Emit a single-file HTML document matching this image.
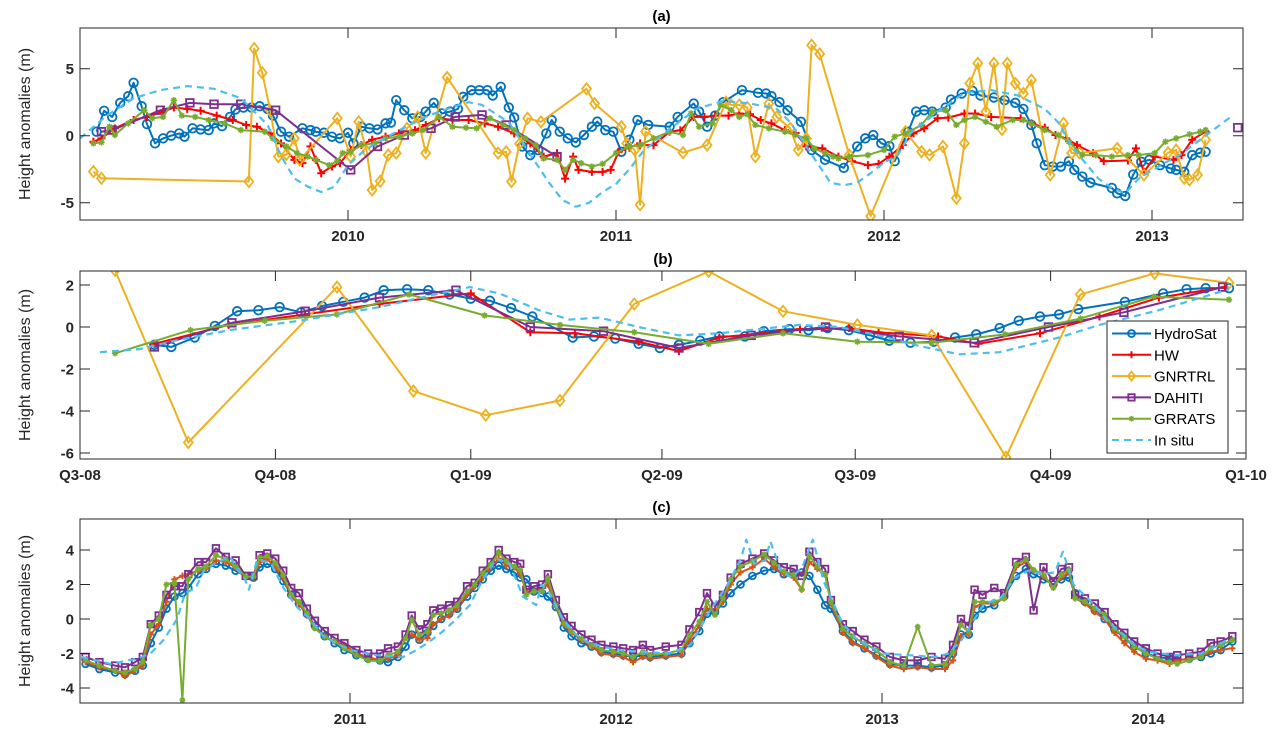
<!DOCTYPE html>
<html><head><meta charset="utf-8">
<style>
html,body{margin:0;padding:0;background:#fff;}
svg{display:block;font-family:"Liberation Sans",Arial,sans-serif;}
</style></head>
<body>
<svg id="chart" width="1284" height="736" viewBox="0 0 1284 736" xmlns="http://www.w3.org/2000/svg">
<rect x="0" y="0" width="1284" height="736" fill="#fff"/>
</svg>
<script>
// ---------- Panel (a) data ----------
const aHydroT = [2009.062,2009.09,2009.12,2009.15,2009.18,2009.20,2009.23,2009.25,2009.28,2009.31,2009.34,2009.37,2009.39,2009.42,2009.45,2009.48,2009.50,2009.53,2009.56,2009.58,2009.61,2009.64,2009.67,2009.70,2009.72,2009.75,2009.78,2009.83,2009.86,2009.88,2009.91,2009.94,2009.97,2010.00,2010.02,2010.05,2010.08,2010.11,2010.14,2010.16,2010.18,2010.21,2010.24,2010.27,2010.29,2010.32,2010.35,2010.38,2010.41,2010.43,2010.46,2010.49,2010.52,2010.54,2010.57,2010.60,2010.62,2010.65,2010.68,2010.71,2010.74,2010.76,2010.79,2010.82,2010.85,2010.88,2010.91,2010.93,2010.96,2010.99,2011.02,2011.05,2011.08,2011.12,2011.20,2011.23,2011.29,2011.31,2011.34,2011.37,2011.40,2011.47,2011.53,2011.56,2011.58,2011.61,2011.64,2011.69,2011.73,2011.78,2011.85,2011.90,2011.93,2011.96,2011.99,2012.02,2012.04,2012.09,2012.12,2012.15,2012.18,2012.23,2012.25,2012.29,2012.33,2012.36,2012.41,2012.45,2012.49,2012.52,2012.55,2012.57,2012.60,2012.63,2012.66,2012.69,2012.71,2012.74,2012.77,2012.85,2012.87,2012.90,2012.93,2012.96,2012.99,2013.03,2013.07,2013.09,2013.12,2013.15,2013.18,2013.20];
const aHydroV = [0.3,1.86,1.4,2.45,2.95,3.95,2.2,0.87,-0.57,-0.2,0,0.17,-0.07,0.55,0.47,0.42,0.92,0.72,1.4,1.96,2.1,2.1,2.2,2.0,1.5,0.3,-0.07,0.55,0.42,0.3,0.22,-0.07,-0.2,0.22,-0.57,0.67,0.55,0.47,0.92,0.97,2.65,1.9,1.3,1.4,1.8,2.45,1.66,1.8,2.0,2.9,3.4,3.4,3.4,3.0,3.65,2.1,1.36,-0.8,-1.45,-1.07,0.17,1.17,0.3,-0.2,-0.5,0.05,0.67,1.05,0.42,0.3,-1.2,-0.3,1.17,0.8,0.67,1.4,2.4,1.8,0.67,1.5,2.5,3.4,3.2,3.15,2.95,2.5,1.9,1.04,-1.07,-1.8,-2.4,-0.8,-0.2,0.05,-0.57,-0.77,-1.9,0.3,1.8,1.9,1.8,2.1,2.7,3.15,3.35,3.0,2.85,2.65,2.45,2.0,0.8,-0.57,-2.2,-2.3,-2.3,-1.9,-2.55,-3.05,-3.5,-3.9,-4.3,-4.5,-2.9,-1.95,-1.8,-2.2,-2.45,-2.55,-2.7,-1.45,-1.27,-1.2];
const aHwT = [2009.05,2009.08,2009.13,2009.2,2009.25,2009.31,2009.35,2009.4,2009.45,2009.51,2009.57,2009.62,2009.66,2009.71,2009.75,2009.8,2009.83,2009.86,2009.88,2009.9,2009.94,2009.97,2010.01,2010.05,2010.09,2010.14,2010.19,2010.25,2010.29,2010.34,2010.39,2010.45,2010.51,2010.56,2010.62,2010.68,2010.73,2010.78,2010.81,2010.84,2010.86,2010.91,2010.95,2010.98,2011.01,2011.05,2011.09,2011.09,2011.14,2011.20,2011.24,2011.29,2011.33,2011.37,2011.42,2011.46,2011.50,2011.54,2011.58,2011.63,2011.67,2011.71,2011.77,2011.83,2011.88,2011.94,2011.98,2012.02,2012.07,2012.11,2012.15,2012.20,2012.24,2012.30,2012.34,2012.40,2012.51,2012.55,2012.60,2012.64,2012.68,2012.72,2012.78,2012.82,2012.91,2012.94,2012.97,2013.01,2013.08,2013.11,2013.15,2013.20];
const aHwV = [-0.45,-0.2,0.55,1.17,1.4,1.8,2.1,2.0,1.86,1.5,1.17,0.8,0.67,0.17,-0.57,-1.8,-2.05,-0.8,-1.8,-2.8,-2.3,-2.05,-1.07,-0.7,-0.3,-0.07,0.17,0.42,0.8,1.3,1.17,1.17,0.92,0.67,0.17,-0.57,-1.56,-1.3,-3.2,-1.56,-2.55,-2.7,-2.7,-2.55,-1.2,-0.9,-0.57,-0.7,-0.7,0.3,0.4,1.4,1.4,1.5,1.5,1.66,1.6,1.17,0.92,0.42,0.2,-0.8,-0.95,-1.56,-1.9,-2.2,-2.1,-1.56,-0.7,0.17,0.55,1.3,1.35,1.66,1.66,1.4,1.3,0.92,0.6,0.05,-0.2,-0.7,-1.3,-1.9,-1.85,-0.95,-2.7,-1.56,-1.8,-1.45,-0.3,0.3,0.67];
const aGnT = [2009.05,2009.08,2009.63,2009.65,2009.68,2009.71,2009.74,2009.77,2009.80,2009.82,2009.96,2010.01,2010.04,2010.07,2010.09,2010.12,2010.15,2010.18,2010.22,2010.26,2010.29,2010.37,2010.56,2010.59,2010.61,2010.64,2010.67,2010.72,2010.89,2010.92,2011.02,2011.04,2011.07,2011.09,2011.11,2011.25,2011.34,2011.41,2011.43,2011.46,2011.49,2011.52,2011.57,2011.60,2011.65,2011.68,2011.71,2011.73,2011.76,2011.87,2011.95,2012.08,2012.14,2012.17,2012.22,2012.27,2012.30,2012.32,2012.35,2012.38,2012.41,2012.44,2012.46,2012.49,2012.52,2012.55,2012.62,2012.67,2012.70,2012.73,2012.87,2012.97,2013.06,2013.09,2013.12,2013.14,2013.17,2013.20];
const aGnV = [-2.68,-3.18,-3.42,6.5,4.7,1.86,-1.56,-1.4,-0.2,-1.8,1.3,-1.56,1.04,-1.2,-4.05,-3.4,-1.44,-1.3,0.55,1.4,-1.3,4.35,-1.3,-1.2,-3.42,-0.6,1.3,1.04,3.5,2.4,0.67,-0.57,-1.07,-5.16,0.3,-1.27,-0.7,2.5,2.3,2.3,2.1,-1.56,2.4,1.4,0.55,-1.07,-0.2,6.75,6.1,-1.44,-6.0,0.3,-1.2,-1.44,-0.8,-4.66,-0.57,3.9,5.4,1.8,5.4,0.47,5.4,3.9,3.15,4.15,-2.93,0.92,-1.3,-1.3,-0.95,-2.93,-1.27,-1.07,-3.18,-3.3,-2.93,-0.3,-0.7,0.55];
const aDaT = [2009.08,2009.12,2009.30,2009.41,2009.50,2009.60,2009.73,2010.01,2010.11,2010.21,2010.31,2010.40,2010.50,2010.59,2010.78];
const aDaV = [0.3,0.42,1.9,2.45,2.35,2.35,1.9,-2.55,-0.8,0.05,0.55,1.4,1.55,0.8,-1.56];
const aDaEndT = [2013.32];
const aDaEndV = [0.6];
const aGrT = [2009.05,2009.08,2009.11,2009.13,2009.18,2009.24,2009.27,2009.31,2009.35,2009.38,2009.43,2009.48,2009.54,2009.60,2009.69,2009.72,2009.77,2009.81,2009.85,2009.88,2009.93,2009.96,2009.98,2010.01,2010.05,2010.10,2010.14,2010.19,2010.24,2010.28,2010.34,2010.39,2010.44,2010.48,2010.53,2010.58,2010.62,2010.66,2010.70,2010.73,2010.78,2010.81,2010.84,2010.87,2010.91,2010.95,2011.00,2011.05,2011.09,2011.14,2011.20,2011.25,2011.28,2011.31,2011.36,2011.39,2011.43,2011.46,2011.49,2011.52,2011.57,2011.63,2011.67,2011.71,2011.74,2011.78,2011.81,2011.83,2011.87,2011.94,2012.00,2012.04,2012.08,2012.14,2012.18,2012.23,2012.27,2012.30,2012.34,2012.38,2012.42,2012.48,2012.52,2012.55,2012.60,2012.65,2012.69,2012.74,2012.79,2012.85,2012.91,2012.95,2013.01,2013.05,2013.09,2013.14,2013.18,2013.20];
const aGrV = [-0.57,-0.5,0.67,0.05,0.92,1.9,1.3,1.4,2.65,1.5,1.4,1.17,0.92,0.42,0.3,-0.2,-0.8,-1.3,-1.56,-1.8,-2.2,-1.9,-1.3,-1.2,-0.7,-0.57,-0.2,-0.07,0.17,0.42,1.4,0.67,0.6,0.55,1.3,0.8,0.42,-0.2,-0.7,-1.7,-1.8,-2.55,-1.8,-2.05,-2.3,-2.1,-1.3,-0.8,-0.7,-0.2,0.3,0.05,1.66,0.67,0.92,2.3,1.9,1.4,1.6,0.8,0.55,0.3,0.05,-0.2,-0.95,-1.3,-1.56,-1.7,-1.56,-1.45,-1.07,-0.07,0.17,0.8,1.8,1.9,0.8,1.17,1.4,1.04,0.67,1.17,1.17,0.92,0.42,0.05,-0.45,-1.45,-1.45,-1.56,-1.45,-1.45,-1.3,-0.45,-0.2,0.1,0.3,0.42];
const aInT = [2009.0,2009.1,2009.2,2009.3,2009.4,2009.5,2009.6,2009.7,2009.75,2009.8,2009.85,2009.9,2009.95,2010.0,2010.05,2010.1,2010.2,2010.3,2010.4,2010.45,2010.5,2010.6,2010.65,2010.7,2010.75,2010.8,2010.85,2010.9,2010.95,2011.0,2011.05,2011.1,2011.2,2011.3,2011.4,2011.5,2011.6,2011.65,2011.7,2011.75,2011.8,2011.85,2011.9,2011.95,2012.0,2012.05,2012.1,2012.2,2012.3,2012.4,2012.5,2012.6,2012.65,2012.7,2012.75,2012.8,2012.85,2012.9,2012.95,2013.0,2013.05,2013.1,2013.2,2013.3];
const aInV = [-0.2,1.5,2.8,3.4,3.7,3.5,2.8,0.8,-1.5,-3.2,-3.8,-4.2,-3.8,-2.2,-1.3,-0.6,0.5,1.5,2.2,2.5,2.3,1.0,-0.5,-2.0,-3.5,-4.8,-5.3,-5.0,-4.2,-3.6,-2.5,-1.2,0.5,2.0,2.6,2.4,2.0,1.0,-0.5,-2.0,-3.5,-3.7,-3.5,-2.8,-2.0,-1.5,0.2,1.8,3.2,3.4,3.0,2.0,1.0,-0.8,-2.0,-3.2,-3.9,-4.3,-3.2,-2.6,-2.0,-1.5,0.0,1.5];
const aXTicks = [2010,2011,2012,2013];
const aYTicks = [5,0,-5];

// ---------- Panel (b) data (days since 2008-07-01) ----------
const bHydroD = [35,43,54,63.5,74,84,94,104,114,124,134,143,154,164,174,184,193,203,213,232,242,252,263,273,282,292,301,313,322,334,343,352,362,372,381,391,402,412,422,433,442,452,461,470,492,510,521,530,541];
const bHydroV = [-0.85,-0.95,-0.5,0.05,0.75,0.8,0.95,0.7,1.0,1.2,1.4,1.75,1.8,1.75,1.55,1.35,1.25,0.9,0.5,-0.5,-0.45,-0.55,-0.8,-1.0,-0.85,-0.65,-0.45,-0.45,-0.2,-0.1,-0.15,-0.05,-0.15,-0.4,-0.65,-0.75,-0.7,-0.5,-0.35,-0.05,0.3,0.5,0.6,0.85,1.2,1.6,1.8,1.85,1.85];
const bHwD = [35,70,106,141,184,212,233,263,282,301,339,362,376,404,423,452,480,508,539];
const bHwV = [-0.8,0.1,0.6,1.1,1.6,-0.25,-0.3,-0.7,-1.15,-0.5,-0.1,-0.05,-0.25,-0.45,-0.8,-0.3,0.5,1.4,1.9];
const bGnD = [16.5,51,121,157,191,226,261,296,331,366,401,436,471,506,541];
const bGnV = [2.7,-5.5,1.9,-3.05,-4.2,-3.5,1.1,2.65,0.75,0.1,-0.4,-6.2,1.55,2.55,2.1];
const bDaD = [35,71.5,106,141,177,212,246.5,282,316,351,385.7,421,456,491.5,538];
const bDaV = [-0.95,0.2,0.75,1.4,1.75,0.0,-0.2,-1.0,-0.4,0.0,-0.45,-0.75,0.0,0.7,1.9];
const bGrD = [16.5,52,87,121,155,190.5,226,261,296,331,366,401,435.6,471,505.6,541];
const bGrV = [-1.25,-0.15,0.3,0.6,1.55,0.55,0.1,-0.25,-0.8,-0.3,-0.7,-0.75,-0.35,0.4,1.45,1.3];
const bInD = [9.4,28,47,70.5,103.5,141,165,183.5,197.5,216,230.5,244.5,263,282,301,320,338.7,357.5,376,395,414,433,461,480,508,541];
const bInV = [-1.2,-1.05,-0.6,-0.15,0.3,0.95,1.5,1.9,1.6,0.8,0.35,0.45,0.0,-0.4,-0.3,-0.1,0.1,0.0,-0.4,-0.9,-1.3,-1.2,-0.5,0.1,0.8,1.8];
const bXTickDays = [0,92,184,274,365,457,549];
const bXTickLabels = ["Q3-08","Q4-08","Q1-09","Q2-09","Q3-09","Q4-09","Q1-10"];
const bYTicks = [2,0,-2,-4,-6];

// ---------- Panel (c) data ----------
const cT = [2010.006,2010.058,2010.117,2010.154,2010.192,2010.221,2010.251,2010.281,2010.31,2010.34,2010.37,2010.392,2010.429,2010.459,2010.496,2010.533,2010.57,2010.608,2010.637,2010.66,2010.689,2010.719,2010.749,2010.779,2010.808,2010.838,2010.868,2010.905,2010.942,2010.979,2011.024,2011.068,2011.113,2011.143,2011.18,2011.209,2011.232,2011.261,2011.291,2011.313,2011.343,2011.373,2011.403,2011.44,2011.469,2011.499,2011.529,2011.559,2011.588,2011.618,2011.64,2011.663,2011.692,2011.722,2011.744,2011.774,2011.804,2011.833,2011.87,2011.908,2011.945,2011.99,2012.027,2012.064,2012.101,2012.128,2012.187,2012.246,2012.276,2012.313,2012.342,2012.372,2012.402,2012.431,2012.468,2012.513,2012.557,2012.594,2012.631,2012.668,2012.698,2012.727,2012.757,2012.786,2012.808,2012.853,2012.89,2012.934,2012.979,2013.03,2013.082,2013.134,2013.186,2013.237,2013.267,2013.297,2013.326,2013.348,2013.378,2013.422,2013.459,2013.504,2013.541,2013.57,2013.607,2013.644,2013.674,2013.703,2013.726,2013.763,2013.8,2013.837,2013.874,2013.911,2013.948,2013.992,2014.036,2014.081,2014.11,2014.155,2014.199,2014.236,2014.273,2014.317];
const cHydroV = [-2.6,-2.9,-3.1,-3.2,-3.0,-2.7,-1.4,-0.5,0.6,1.3,1.5,1.8,2.6,2.9,3.2,3.1,2.8,2.5,2.4,3.0,3.2,2.9,2.2,1.4,0.9,0.3,-0.4,-1.0,-1.4,-1.8,-2.1,-2.3,-2.4,-2.5,-2.2,-1.6,-0.9,-1.2,-0.8,-0.4,0.0,0.3,0.6,1.3,1.8,2.3,2.8,3.1,2.9,2.7,2.4,2.3,1.6,1.5,1.3,0.7,-0.5,-1.0,-1.4,-1.6,-1.9,-2.0,-2.1,-2.2,-2.1,-2.2,-2.1,-2.0,-1.4,-0.7,0.3,0.4,0.9,1.5,2.0,2.5,2.8,2.9,2.6,2.6,2.7,2.5,1.7,0.8,0.6,-0.7,-1.3,-1.7,-2.1,-2.6,-2.7,-2.7,-2.8,-2.7,-2.0,-0.9,-0.9,0.2,0.6,0.8,1.3,2.5,2.9,2.6,2.3,2.0,2.3,2.4,1.5,1.0,0.5,0.0,-0.6,-1.1,-1.6,-2.0,-2.2,-2.3,-2.4,-2.3,-2.2,-2.0,-1.8,-1.3];
const cHwV = [-2.5,-2.8,-3.0,-3.3,-3.0,-2.7,-0.9,-0.3,1.0,2.3,2.5,2.6,2.8,2.9,3.4,3.3,3.0,2.4,2.4,3.3,3.5,3.0,2.4,1.3,0.9,0.2,-0.5,-1.0,-1.3,-1.5,-2.0,-2.2,-2.4,-2.3,-2.1,-1.1,-0.9,-1.2,-1.1,-0.3,0.0,0.2,0.6,1.4,1.9,2.4,3.0,3.5,3.1,3.0,2.6,1.6,1.6,1.8,2.0,0.7,-0.3,-0.8,-1.2,-1.6,-2.0,-2.1,-2.2,-2.5,-2.2,-2.3,-2.2,-2.1,-1.2,-0.4,0.6,0.5,1.0,2.0,2.7,3.0,3.5,3.0,2.6,2.4,1.7,3.3,2.9,2.6,0.9,-0.8,-1.4,-1.7,-2.2,-2.7,-2.9,-2.8,-2.9,-2.9,-2.4,-1.0,-0.9,0.7,0.9,0.9,1.2,3.0,3.3,2.8,2.5,1.9,2.4,2.7,1.2,0.9,0.4,0.0,-0.8,-1.4,-1.9,-2.3,-2.4,-2.6,-2.4,-2.3,-2.2,-1.9,-1.8,-1.7];
const cDaV = [-2.2,-2.5,-2.7,-2.8,-2.5,-2.2,-0.3,0.2,1.4,1.9,1.9,2.6,3.3,3.3,4.1,3.6,3.4,2.5,2.5,3.7,3.8,3.5,2.8,1.8,1.5,0.6,-0.1,-0.7,-1.1,-1.4,-1.8,-2.0,-2.0,-1.7,-1.6,-0.9,0.2,-0.6,-0.3,0.5,0.6,0.8,1.0,1.9,2.1,2.8,3.3,4.0,3.5,3.3,3.2,1.7,1.9,2.0,2.6,1.1,0.1,-0.4,-0.9,-1.2,-1.5,-1.6,-1.7,-1.8,-1.5,-1.8,-1.6,-1.5,-0.6,0.4,1.5,0.7,1.4,2.4,3.2,3.5,3.8,3.4,3.0,2.9,2.5,3.9,3.3,2.9,1.1,-0.3,-0.7,-1.2,-1.6,-2.2,-2.4,-2.4,-2.2,-2.3,-1.5,0.0,-0.4,1.7,1.4,1.8,1.5,3.3,3.6,0.5,3.0,2.2,2.9,3.0,1.4,1.2,0.9,0.4,-0.3,-0.8,-1.3,-1.7,-2.0,-2.2,-2.1,-2.0,-1.9,-1.4,-1.3,-1.0];
const cGrV = [-2.4,-2.7,-3.0,-3.1,-2.9,-2.5,-0.35,0,2.0,2.1,-4.7,2.3,2.9,3.05,3.7,3.45,3.05,2.45,2.45,3.55,3.65,3.25,2.55,1.4,1.0,0.33,-0.55,-1.03,-1.3,-1.7,-2.1,-2.4,-2.45,-2.1,-1.9,-1.13,-0.05,-0.93,-0.74,0.23,0.33,0.5,0.8,1.6,2.0,2.65,3.15,3.85,3.35,3.05,2.85,1.4,1.6,1.6,2.37,0.8,-0.25,-0.74,-1.13,-1.5,-1.8,-1.9,-2.0,-2.2,-1.9,-2.1,-2.0,-1.8,-0.93,-0.15,1.0,0.23,1.2,2.28,3.05,3.35,3.75,3.25,2.75,2.57,1.7,3.65,3.05,2.57,1.0,-0.55,-1.03,-1.42,-1.8,-2.5,-2.7,-0.45,-2.7,-2.6,-1.9,-0.35,-0.74,1.0,1.0,1.0,1.2,3.15,3.45,2.85,2.57,1.8,2.57,2.85,1.2,1.0,0.62,0.23,-0.55,-1.03,-1.6,-2.0,-2.3,-2.5,-2.6,-2.4,-2.2,-1.7,-1.5,-1.23];
const cInT = [2009.99,2010.1,2010.2,2010.25,2010.3,2010.35,2010.38,2010.42,2010.45,2010.5,2010.55,2010.58,2010.6,2010.62,2010.65,2010.7,2010.75,2010.8,2010.85,2010.9,2011.0,2011.1,2011.2,2011.25,2011.3,2011.35,2011.4,2011.45,2011.5,2011.55,2011.6,2011.65,2011.7,2011.72,2011.75,2011.8,2011.85,2011.9,2012.0,2012.1,2012.2,2012.28,2012.35,2012.42,2012.47,2012.49,2012.52,2012.56,2012.58,2012.62,2012.66,2012.7,2012.74,2012.78,2012.85,2012.9,2013.0,2013.1,2013.2,2013.25,2013.3,2013.38,2013.45,2013.5,2013.55,2013.6,2013.65,2013.68,2013.72,2013.8,2013.85,2013.9,2013.95,2014.0,2014.1,2014.2,2014.3];
const cInV = [-2.2,-2.6,-2.3,-2.0,-1.2,0.0,1.5,1.8,2.8,3.3,3.6,2.8,2.5,1.7,3.4,3.3,1.8,0.7,0.0,-1.0,-1.8,-2.1,-2.2,-1.8,-1.3,-0.7,0.0,0.8,2.3,3.5,3.2,1.3,0.8,2.0,1.5,0.0,-0.9,-1.4,-1.8,-1.9,-2.0,-1.5,0.4,2.0,3.5,4.6,3.2,3.4,4.5,2.8,2.4,3.0,4.6,2.2,-0.2,-1.1,-2.0,-2.1,-2.2,-2.0,-1.2,0.8,1.3,2.4,2.8,2.6,2.7,3.9,2.0,0.8,-0.2,-0.8,-1.5,-1.9,-2.1,-2.0,-1.2];
const cXTicks = [2011,2012,2013,2014];
const cYTicks = [4,2,0,-2,-4];

const SVGNS = "http://www.w3.org/2000/svg";
const svg = document.getElementById('chart');
const COL = {hydro:"#0072BD", hw:"#FF0000", hwc:"#D95319", gn:"#EDB120", da:"#7E2F8E", gr:"#77AC30", ins:"#4DBEEE"};

function mk(tag, attrs, parent){
  const e = document.createElementNS(SVGNS, tag);
  for (const k in attrs) e.setAttribute(k, attrs[k]);
  (parent||svg).appendChild(e);
  return e;
}
function lin(d0,d1,p0,p1){ return v => p0 + (v-d0)*(p1-p0)/(d1-d0); }

function marker(g, type, x, y, color, s){
  let m;
  if (type==='o'){ m = mk('circle',{cx:x,cy:y,r:s,fill:'none',stroke:color,'stroke-width':1.8},g); }
  else if (type==='+'){ m = mk('path',{d:`M${x-s},${y}H${x+s}M${x},${y-s}V${y+s}`,stroke:color,'stroke-width':2,fill:'none'},g); }
  else if (type==='d'){ m = mk('path',{d:`M${x},${y-s}L${x+s*0.8},${y}L${x},${y+s}L${x-s*0.8},${y}Z`,stroke:color,'stroke-width':1.8,fill:'none'},g); }
  else if (type==='s'){ m = mk('rect',{x:x-s,y:y-s,width:2*s,height:2*s,stroke:color,'stroke-width':1.8,fill:'none'},g); }
  else if (type==='*'){ m = mk('path',{d:`M${x-s},${y}H${x+s}M${x},${y-s}V${y+s}M${x-s*0.7},${y-s*0.7}L${x+s*0.7},${y+s*0.7}M${x-s*0.7},${y+s*0.7}L${x+s*0.7},${y-s*0.7}`,stroke:color,'stroke-width':1.5,fill:'none'},g); }
  if (m){
    
    
  }
}

function series(parent, name, xs, ys, X, Y, color, mtype, msize, dashed){
  const g = mk('g',{},parent);
  
  
  let d = '';
  for (let i=0;i<xs.length;i++){ d += (i?'L':'M') + X(xs[i]).toFixed(1) + ',' + Y(ys[i]).toFixed(1); }
  const p = mk('path',{d:d,fill:'none',stroke:color,'stroke-width':dashed?2.2:2,'stroke-linejoin':'round','stroke-dasharray':dashed?'7,5':'none'},g);
  
  
  if (mtype){ for (let i=0;i<xs.length;i++) marker(g, mtype, X(xs[i]), Y(ys[i]), color, msize); }
}

function axes(id, box, X, Y, xticks, xlabels, yticks, title){
  const g = mk('g',{});
  
  
  const cp = mk('clipPath',{id:id+'-clip'},g);
  mk('rect',{x:box.l,y:box.t,width:box.r-box.l,height:box.b-box.t},cp);
  mk('rect',{x:box.l,y:box.t,width:box.r-box.l,height:box.b-box.t,fill:'#fff',stroke:'none'},g);
  const plot = mk('g',{'clip-path':`url(#${id}-clip)`},g);
  
  
  return {g, plot, finish: function(){
    const fr = mk('g',{},g);
    
    
    mk('rect',{x:box.l,y:box.t,width:box.r-box.l,height:box.b-box.t,fill:'none',stroke:'#262626','stroke-width':1},fr);
    xticks.forEach((v,i)=>{
      const x = X(v);
      mk('path',{d:`M${x},${box.b}V${box.b-10}M${x},${box.t}V${box.t+10}`,stroke:'#262626','stroke-width':1},fr);
      const t = mk('text',{x:x,y:box.b+21,'text-anchor':'middle','font-size':15,'font-weight':'bold',fill:'#262626'},fr);
      t.textContent = xlabels[i];
      
      
    });
    yticks.forEach(v=>{
      const y = Y(v);
      mk('path',{d:`M${box.l},${y}H${box.l+10}M${box.r},${y}H${box.r-10}`,stroke:'#262626','stroke-width':1},fr);
      const t = mk('text',{x:box.l-6,y:y+5.5,'text-anchor':'end','font-size':15,'font-weight':'bold',fill:'#262626'},fr);
      t.textContent = String(v);
      
      
    });
    const tt = mk('text',{x:(box.l+box.r)/2,y:box.t-7,'text-anchor':'middle','font-size':15,'font-weight':'bold',fill:'#000'},fr);
    tt.textContent = title;
    
    
    const yl = mk('text',{x:0,y:0,'text-anchor':'middle','font-size':16,fill:'#262626',transform:`translate(30,${(box.t+box.b)/2}) rotate(-90)`},fr);
    yl.textContent = 'Height anomalies (m)';
    
    
  }};
}

// Panel a
(function(){
  const box = {l:80,r:1243,t:28,b:220};
  const X = lin(2009,2010,80,348);
  const Y = lin(0,5,135.7,68.7);
  const A = axes('panel-a', box, X, Y, aXTicks, aXTicks.map(String), aYTicks, '(a)');
  series(A.plot,'hydrosat-series-a',aHydroT,aHydroV,X,Y,COL.hydro,'o',4.3,false);
  series(A.plot,'hw-series-a',aHwT,aHwV,X,Y,COL.hw,'+',4,false);
  series(A.plot,'gnrtrl-series-a',aGnT,aGnV,X,Y,COL.gn,'d',5.5,false);
  series(A.plot,'dahiti-series-a',aDaT,aDaV,X,Y,COL.da,'s',3.8,false);
  series(A.plot,'dahiti-series-a-end',aDaEndT,aDaEndV,X,Y,COL.da,'s',3.8,false);
  series(A.plot,'grrats-series-a',aGrT,aGrV,X,Y,COL.gr,'*',3.2,false);
  series(A.plot,'insitu-series-a',aInT,aInV,X,Y,COL.ins,null,0,true);
  A.finish();
})();

// Panel b
(function(){
  const box = {l:80,r:1246,t:271,b:459};
  const X = lin(0,549,80,1246);
  const Y = lin(0,2,327,285);
  const B = axes('panel-b', box, X, Y, bXTickDays, bXTickLabels, bYTicks, '(b)');
  series(B.plot,'hydrosat-series-b',bHydroD,bHydroV,X,Y,COL.hydro,'o',4.3,false);
  series(B.plot,'hw-series-b',bHwD,bHwV,X,Y,COL.hw,'+',4,false);
  series(B.plot,'gnrtrl-series-b',bGnD,bGnV,X,Y,COL.gn,'d',5.5,false);
  series(B.plot,'dahiti-series-b',bDaD,bDaV,X,Y,COL.da,'s',3.8,false);
  series(B.plot,'grrats-series-b',bGrD,bGrV,X,Y,COL.gr,'*',3.2,false);
  series(B.plot,'insitu-series-b',bInD,bInV,X,Y,COL.ins,null,0,true);
  B.finish();
  // legend
  const lg = mk('g',{});
  
  
  mk('rect',{x:1107,y:321,width:121,height:132,fill:'#fff',stroke:'#262626','stroke-width':1},lg);
  const names = ['HydroSat','HW','GNRTRL','DAHITI','GRRATS','In situ'];
  const cols = [COL.hydro,COL.hw,COL.gn,COL.da,COL.gr,COL.ins];
  const mks = ['o','+','d','s','*',null];
  const ms = [3.5,3.5,4.5,3.2,2.8,0];
  names.forEach((n,i)=>{
    const y = 333.5 + i*21.3;
    const e = mk('g',{},lg);
    
    
    mk('path',{d:`M1112,${y}H1151`,stroke:cols[i],'stroke-width':2,'stroke-dasharray':mks[i]?'none':'7,5'},e);
    if (mks[i]) marker(e, mks[i], 1131.5, y, cols[i], ms[i]);
    const t = mk('text',{x:1154,y:y+5.5,'font-size':15,fill:'#000'},e);
    t.textContent = n;
  });
})();

// Panel c
(function(){
  const box = {l:80,r:1243,t:519,b:703};
  const X = lin(2011,2012,350,616);
  const Y = lin(0,4,619,550);
  const C = axes('panel-c', box, X, Y, cXTicks, cXTicks.map(String), cYTicks, '(c)');
  series(C.plot,'hydrosat-series-c',cT,cHydroV,X,Y,COL.hydro,'o',3.4,false);
  series(C.plot,'hw-series-c',cT,cHwV,X,Y,COL.hwc,'+',3.2,false);
  series(C.plot,'dahiti-series-c',cT,cDaV,X,Y,COL.da,'s',3.3,false);
  series(C.plot,'grrats-series-c',cT,cGrV,X,Y,COL.gr,'*',3,false);
  series(C.plot,'insitu-series-c',cInT,cInV,X,Y,COL.ins,null,0,true);
  C.finish();
})();
</script>
</body></html>
